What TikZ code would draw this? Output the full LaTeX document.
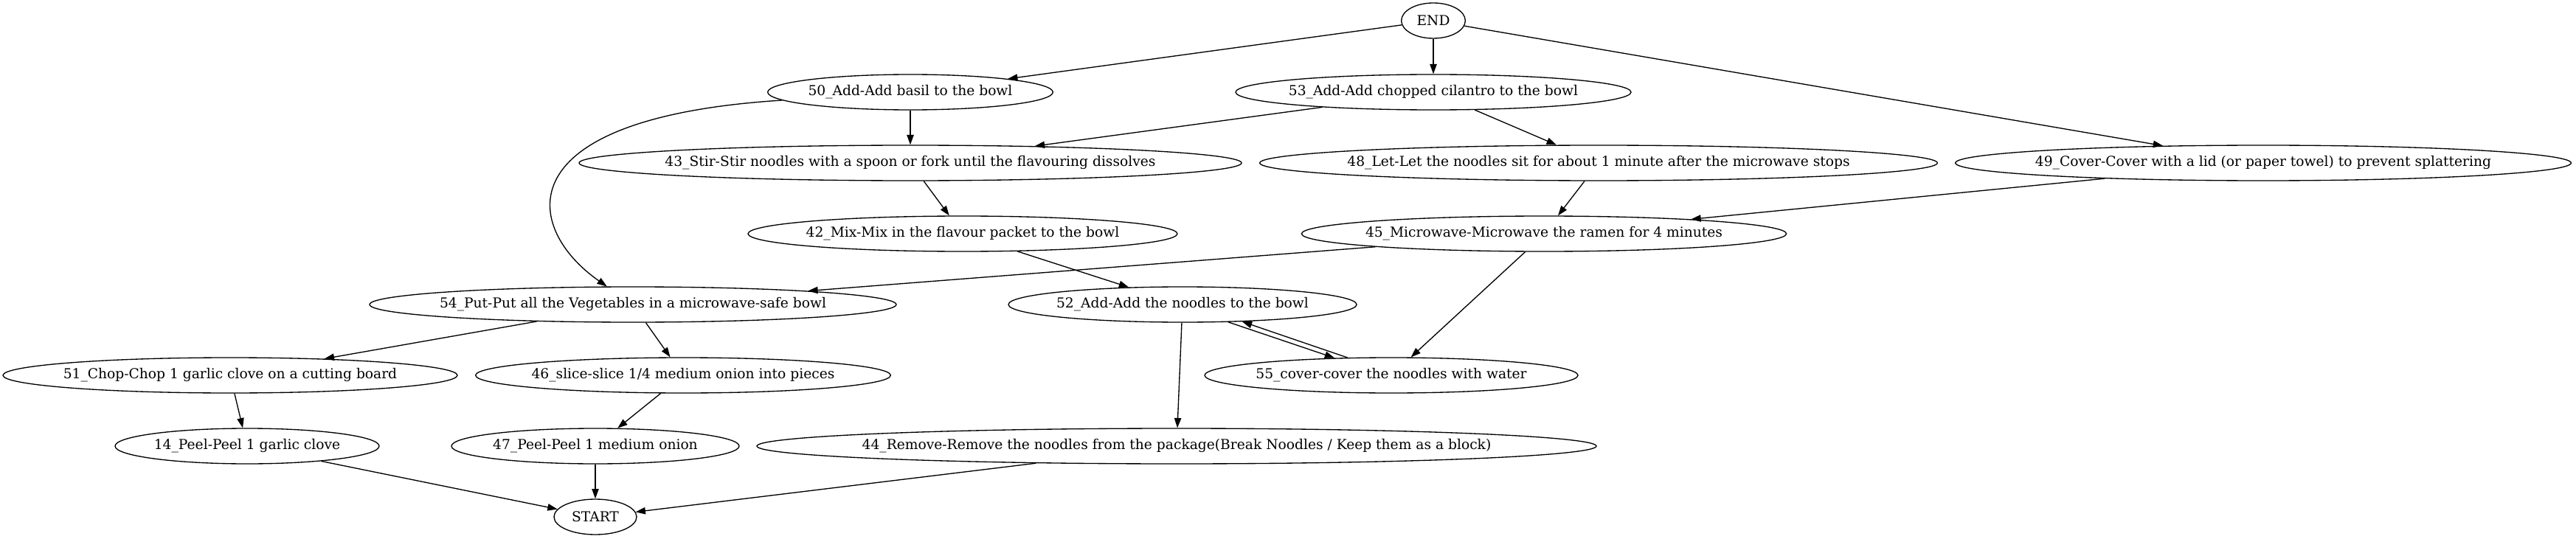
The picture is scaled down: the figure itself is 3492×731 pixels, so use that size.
\documentclass[tikz,border=0pt]{standalone}
\usepackage{fontspec}
\setmainfont{DejaVu Serif}
\usetikzlibrary{shapes.geometric, arrows.meta}

\begin{document}
\begin{tikzpicture}[
    x=0.75pt, y=-0.75pt,
    task/.style={ellipse, draw, line width=1pt, minimum height=36pt, inner sep=0pt, font=\fontsize{14}{16}\selectfont},
    flow/.style={line width=1pt, -{Triangle[length=10pt, width=7pt]}}
]
    \useasboundingbox (0, 0) rectangle (3492, 731);

    % Steps
    \node[task, minimum width=65pt] (end) at (1943, 28) {\makebox[0pt]{END}};
    \node[task, minimum width=290pt] (basil) at (1234, 125) {\makebox[0pt]{50\_Add-Add basil to the bowl}};
    \node[task, minimum width=402pt] (cilantro) at (1943, 125) {\makebox[0pt]{53\_Add-Add chopped cilantro to the bowl}};
    \node[task, minimum width=673.5pt] (stir) at (1234, 221) {\makebox[0pt]{43\_Stir-Stir noodles with a spoon or fork until the flavouring dissolves}};
    \node[task, minimum width=689pt] (let) at (2167, 221) {\makebox[0pt]{48\_Let-Let the noodles sit for about 1 minute after the microwave stops}};
    \node[task, minimum width=626pt] (cover) at (3068, 221) {\makebox[0pt]{49\_Cover-Cover with a lid (or paper towel) to prevent splattering}};
    \node[task, minimum width=436.5pt] (mix) at (1305, 317) {\makebox[0pt]{42\_Mix-Mix in the flavour packet to the bowl}};
    \node[task, minimum width=493pt] (microwave) at (2093, 317) {\makebox[0pt]{45\_Microwave-Microwave the ramen for 4 minutes}};
    \node[task, minimum width=535.5pt] (put) at (858, 413) {\makebox[0pt]{54\_Put-Put all the Vegetables in a microwave-safe bowl}};
    \node[task, minimum width=354pt] (noodles) at (1603, 413) {\makebox[0pt]{52\_Add-Add the noodles to the bowl}};
    \node[task, minimum width=462pt] (chop) at (312, 509) {\makebox[0pt]{51\_Chop-Chop 1 garlic clove on a cutting board}};
    \node[task, minimum width=422pt] (slice) at (926, 509) {\makebox[0pt]{46\_slice-slice 1/4 medium onion into pieces}};
    \node[task, minimum width=379.5pt] (water) at (1886, 509) {\makebox[0pt]{55\_cover-cover the noodles with water}};
    \node[task, minimum width=268.5pt] (garlic) at (335, 605) {\makebox[0pt]{14\_Peel-Peel 1 garlic clove}};
    \node[task, minimum width=292.5pt] (onion) at (807, 605) {\makebox[0pt]{47\_Peel-Peel 1 medium onion}};
    \node[task, minimum width=853.5pt] (remove) at (1595, 605) {\makebox[0pt]{44\_Remove-Remove the noodles from the package(Break Noodles / Keep them as a block)}};
    \node[task, minimum width=84pt] (start) at (807, 701) {\makebox[0pt]{START}};

    % Edges
    \draw[flow] (end) -- (basil);
    \draw[flow] (end) -- (cilantro);
    \draw[flow] (end) -- (cover);
    \draw[flow] (basil) -- (stir);
    \draw[flow] (basil) .. controls (680, 160) and (710, 310) .. (put);
    \draw[flow] (cilantro) -- (stir);
    \draw[flow] (cilantro) -- (let);
    \draw[flow] (stir) -- (mix);
    \draw[flow] (let) -- (microwave);
    \draw[flow] (cover) -- (microwave);
    \draw[flow] (mix) -- (noodles);
    \draw[flow] (microwave) -- (put);
    \draw[flow] (microwave.224) -- (water);
    \draw[flow] (noodles.-21) -- (water.163);
    \draw[flow] (water.158) -- (noodles.-16);
    \draw[flow] (noodles) -- (remove);
    \draw[flow] (put) -- (chop);
    \draw[flow] (put) -- (slice);
    \draw[flow] (chop) -- (garlic);
    \draw[flow] (slice) -- (onion);
    \draw[flow] (garlic) -- (start);
    \draw[flow] (onion) -- (start);
    \draw[flow] (remove) -- (start);
\end{tikzpicture}
\end{document}
